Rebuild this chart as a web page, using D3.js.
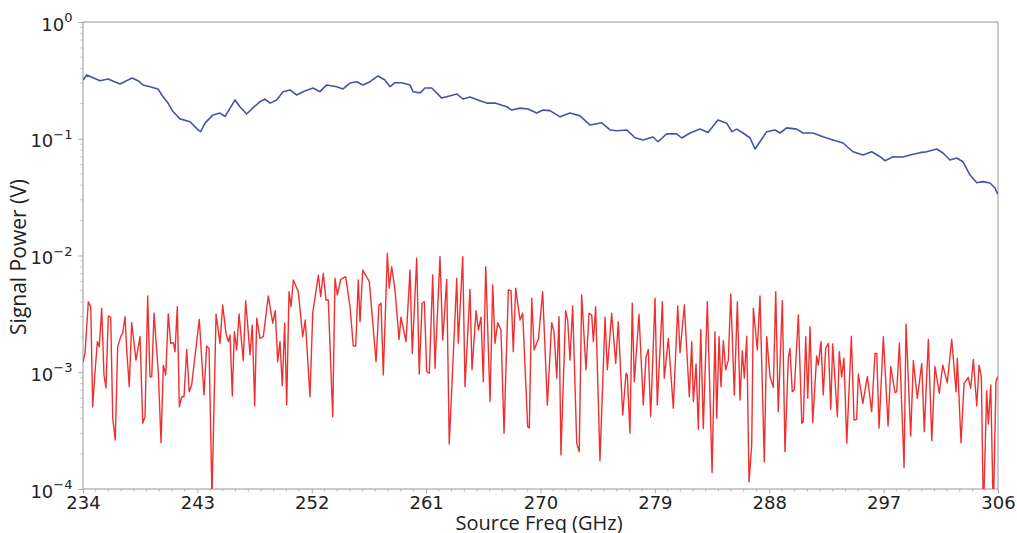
<!DOCTYPE html>
<html><head><meta charset="utf-8">
<script src="https://cdn.jsdelivr.net/npm/d3@7"></script>
<style>body{margin:0;background:#fff}svg{display:block}</style>
</head><body>
<svg id="c" width="1017" height="533"></svg>
<script>
const xTicks = [234, 243, 252, 261, 270, 279, 288, 297, 306];
const yTicks = [1e-4, 1e-3, 1e-2, 1e-1, 1e0];
const yTickExp = ["−4", "−3", "−2", "−1", "0"];
const xLabel = "Source Freq (GHz)";
const yLabel = "Signal Power (V)";

// blue trace: frequency (GHz) and signal (V)
const blueFreq = [234.00,234.29,235.34,235.97,236.91,237.86,238.33,238.72,239.27,239.90,240.30,240.69,241.08,241.63,242.42,243.05,243.26,243.60,244.23,244.78,245.17,245.41,245.96,246.35,246.88,247.28,247.93,248.32,248.72,249.24,249.74,250.29,250.82,251.31,252.10,252.65,253.18,253.96,254.46,255.01,255.54,256.03,256.58,257.21,257.76,258.16,258.55,259.08,259.73,259.97,260.52,260.91,261.44,261.83,262.23,262.62,263.41,263.90,264.45,265.24,265.77,266.42,267.34,267.73,268.39,269.02,269.70,270.20,270.75,271.54,272.32,273.11,273.90,274.82,275.47,276.00,276.78,277.44,278.07,278.85,279.25,279.93,280.72,281.11,281.77,282.55,283.18,283.97,284.65,285.05,285.44,285.94,286.49,286.88,287.27,287.80,288.45,288.85,289.37,290.16,290.66,291.44,292.23,293.02,293.80,294.59,295.38,296.06,296.72,297.11,297.74,298.53,299.08,299.86,300.39,301.18,301.67,302.22,302.75,303.24,303.80,304.33,304.82,305.37,305.76,305.92,306.00];
const blueVolt = [0.319,0.352,0.314,0.325,0.294,0.331,0.314,0.289,0.279,0.267,0.229,0.202,0.171,0.148,0.140,0.119,0.115,0.136,0.160,0.166,0.155,0.171,0.215,0.188,0.163,0.180,0.208,0.219,0.202,0.215,0.253,0.262,0.237,0.253,0.272,0.253,0.289,0.279,0.267,0.300,0.308,0.289,0.308,0.345,0.319,0.279,0.302,0.302,0.289,0.253,0.247,0.272,0.272,0.247,0.223,0.229,0.242,0.219,0.228,0.212,0.202,0.202,0.188,0.176,0.183,0.180,0.166,0.176,0.174,0.154,0.166,0.157,0.131,0.137,0.119,0.117,0.119,0.102,0.0976,0.1035,0.0943,0.110,0.110,0.1015,0.112,0.121,0.113,0.145,0.136,0.115,0.121,0.112,0.1015,0.0817,0.0943,0.115,0.119,0.112,0.124,0.121,0.112,0.112,0.104,0.0976,0.092,0.0774,0.0726,0.0774,0.0702,0.0649,0.0702,0.0698,0.0726,0.076,0.0774,0.0817,0.0755,0.0658,0.0684,0.0636,0.0489,0.042,0.0429,0.0418,0.0379,0.0345,0.0336];

// red trace: frequency (GHz) and signal (mV)
const redFreq = [234.00,234.16,234.42,234.61,234.76,234.94,235.13,235.28,235.47,235.65,235.81,235.99,236.18,236.34,236.54,236.73,236.97,237.12,237.31,237.44,237.64,237.83,238.17,238.49,238.70,238.88,239.09,239.27,239.41,239.59,239.93,240.14,240.32,240.51,240.71,240.90,241.11,241.24,241.42,241.58,241.77,241.95,242.16,242.36,242.55,243.15,243.52,243.73,243.92,244.15,244.47,244.78,244.99,245.25,245.43,245.57,245.75,245.91,246.09,246.28,246.61,246.80,246.96,247.14,247.32,247.51,247.67,247.93,248.19,248.58,248.93,249.13,249.32,249.50,249.68,249.87,250.03,250.21,250.37,250.55,250.94,251.29,251.49,251.86,252.08,252.52,252.70,252.91,253.12,253.30,253.65,253.83,254.01,254.28,254.67,255.01,255.27,255.46,255.66,255.80,256.01,256.53,257.06,257.29,257.45,257.63,257.95,258.10,258.29,258.55,258.87,259.02,259.42,259.73,259.91,260.26,260.46,260.68,260.86,261.05,261.25,261.52,261.70,262.09,262.31,262.62,262.82,263.41,263.53,263.88,264.06,264.45,264.61,264.93,265.11,265.32,265.50,265.69,266.03,266.24,266.42,266.63,266.89,267.13,267.47,267.68,267.86,268.05,268.39,268.60,268.99,269.12,269.31,269.50,269.84,270.17,270.54,270.88,271.06,271.28,271.46,271.61,271.98,272.14,272.32,272.53,272.85,273.05,273.24,273.58,273.82,274.03,274.16,274.34,274.68,275.08,275.26,275.60,275.92,276.12,276.47,276.73,276.83,277.04,277.22,277.38,277.75,278.09,278.30,278.48,278.67,279.01,279.19,279.59,279.74,280.06,280.45,280.80,280.98,281.32,281.71,281.90,282.03,282.24,282.42,282.61,282.81,283.13,283.50,283.73,283.87,284.05,284.20,284.39,284.57,284.78,284.97,285.25,285.49,285.70,285.88,286.04,286.23,286.41,286.62,286.75,287.06,287.27,287.61,287.80,288.06,288.32,288.51,288.71,289.03,289.24,289.50,289.63,289.81,289.97,290.29,290.56,290.68,290.87,291.03,291.21,291.42,291.73,291.86,292.07,292.25,292.44,292.65,292.84,292.99,293.36,293.51,293.70,293.88,294.10,294.46,294.67,294.88,295.01,295.36,295.72,296.06,296.32,296.46,296.64,296.98,297.35,297.56,297.90,298.03,298.24,298.61,298.76,299.13,299.34,299.65,300.00,300.20,300.52,300.79,301.04,301.38,301.65,302.01,302.36,302.70,302.80,303.09,303.33,303.66,303.85,304.06,304.33,304.51,304.69,304.85,305.11,305.24,305.43,305.63,305.84,305.95,306.00];
const redMilliV = [1.23,1.46,4.02,3.64,0.507,0.985,1.83,1.65,3.53,0.947,0.733,3.03,2.96,0.403,0.263,1.65,2.02,2.16,2.99,1.55,0.752,2.66,1.27,2.02,0.365,0.416,4.50,0.916,0.916,3.20,0.98,0.249,1.15,0.947,3.15,1.77,1.79,1.50,3.64,0.507,0.617,0.617,1.57,0.681,0.778,2.84,0.639,1.68,1.60,0.085,3.15,1.77,3.77,2.16,1.83,2.08,0.626,2.23,1.55,3.15,1.26,4.10,2.54,1.41,2.54,0.514,2.90,1.95,2.02,4.50,2.63,3.37,1.23,1.83,0.767,2.63,0.524,4.90,3.64,6.17,4.90,2.02,2.80,0.617,3.25,6.81,4.44,7.04,4.16,4.16,0.416,6.38,4.59,6.25,6.58,3.64,1.68,1.68,6.17,2.71,7.51,5.97,1.23,3.77,3.90,0.947,10.4,5.24,8.02,5.06,1.91,2.96,1.83,7.51,1.45,9.46,0.966,3.90,4.02,1.01,0.98,6.81,1.08,9.77,1.89,6.25,0.243,6.38,1.77,9.77,0.752,5.13,1.05,3.37,2.30,2.96,0.83,8.02,0.56,5.59,1.77,2.66,2.30,0.30,5.06,5.0,1.50,5.24,2.80,3.20,0.342,0.333,4.30,1.55,1.95,4.90,0.524,2.66,2.23,0.888,2.99,0.196,3.37,2.80,1.27,3.69,0.247,0.209,4.59,1.05,3.20,3.09,1.83,3.64,0.175,2.96,1.05,3.20,1.19,2.71,0.43,0.98,0.947,0.30,3.90,0.83,3.14,0.524,1.34,1.57,0.416,4.30,0.524,4.02,0.888,1.95,0.491,3.69,1.47,3.77,0.617,1.83,0.56,1.18,0.325,2.33,0.33,4.02,0.138,2.23,0.403,2.02,0.752,1.86,1.05,1.27,4.68,0.639,4.02,0.579,1.53,0.888,2.04,0.115,0.238,3.53,1.55,4.50,0.171,2.02,0.916,0.743,4.90,0.459,4.10,0.209,1.32,1.60,0.681,0.704,3.09,0.365,0.377,2.02,0.598,2.46,0.37,1.38,1.15,1.83,0.639,1.60,1.77,0.482,1.75,0.416,1.50,0.916,1.32,0.247,2.04,0.39,0.395,0.966,0.542,0.916,0.459,1.45,1.45,0.331,2.02,0.346,1.12,0.668,0.681,1.77,0.153,2.59,0.284,1.26,0.598,1.19,0.31,1.91,0.259,1.12,0.66,1.15,0.814,1.91,0.681,1.32,0.249,0.804,0.905,0.729,1.29,0.514,1.15,0.916,0.06,0.695,0.36,0.778,0.06,0.83,0.905,0.90];

const svg = d3.select("#c");
const m = {l: 83, r: 998, t: 22, b: 489};
const x = d3.scaleLinear().domain([234, 306]).range([m.l, m.r]);
const y = d3.scaleLog().domain([1e-4, 1]).range([m.b, m.t]);
const axisCol = "#a8a8a8";
const font = "'DejaVu Sans', sans-serif";
const labelFont = "'Open Sans', sans-serif";

svg.append("defs").append("clipPath").attr("id", "clip")
  .append("rect").attr("x", m.l).attr("y", m.t).attr("width", m.r - m.l).attr("height", m.b - m.t);

// minor ticks on y (log)
const minorY = [];
for (let e = -4; e < 0; e++) for (let k = 2; k <= 9; k++) minorY.push(k * Math.pow(10, e));
svg.append("g").selectAll("line").data(minorY).join("line")
  .attr("x1", m.l - 2.5).attr("x2", m.l).attr("y1", d => y(d)).attr("y2", d => y(d))
  .attr("stroke", axisCol).attr("stroke-width", 0.8);
// minor ticks on x
const minorX = d3.range(235, 306, 1).filter(v => !xTicks.includes(v));
svg.append("g").selectAll("line").data(minorX).join("line")
  .attr("x1", d => x(d)).attr("x2", d => x(d)).attr("y1", m.b).attr("y2", m.b + 2.5)
  .attr("stroke", axisCol).attr("stroke-width", 0.8);

// frame
svg.append("rect").attr("x", m.l).attr("y", m.t).attr("width", m.r - m.l).attr("height", m.b - m.t)
  .attr("fill", "none").attr("stroke", axisCol).attr("stroke-width", 1.2);

// x axis
const gx = svg.append("g").attr("transform", `translate(0,${m.b})`)
  .call(d3.axisBottom(x).tickValues(xTicks).tickSize(4.5).tickPadding(3).tickFormat(d3.format("d")));
gx.select(".domain").remove();
gx.selectAll("line").attr("stroke", axisCol);
gx.selectAll("text").attr("font-family", font).attr("font-size", 18).attr("fill", "#222");

// y axis
const gy = svg.append("g").attr("transform", `translate(${m.l},0)`)
  .call(d3.axisLeft(y).tickValues(yTicks).tickSize(4.5).tickPadding(6).tickFormat(() => ""));
gy.select(".domain").remove();
gy.selectAll("line").attr("stroke", axisCol);
gy.selectAll(".tick").each(function(d, i) {
  const t = d3.select(this).select("text").attr("font-family", font).attr("font-size", 18)
    .attr("fill", "#222").attr("dy", "0.45em");
  t.text("10");
  t.append("tspan").attr("dy", "-0.65em").attr("font-size", 13).text(yTickExp[i]);
});

// lines
const blue = blueFreq.map((f, i) => [f, blueVolt[i]]);
const red = redFreq.map((f, i) => [f, redMilliV[i] / 1000]);
const line = d3.line().x(d => x(d[0])).y(d => y(d[1]));
const plot = svg.append("g").attr("clip-path", "url(#clip)");
plot.append("path").datum(red).attr("d", line).attr("fill", "none")
  .attr("stroke", "#f03030").attr("stroke-width", 1.4).attr("stroke-linejoin", "round");
plot.append("path").datum(blue).attr("d", line).attr("fill", "none")
  .attr("stroke", "#4652ad").attr("stroke-width", 1.6).attr("stroke-linejoin", "round");

// labels
svg.append("text").attr("x", 539).attr("y", 530).attr("text-anchor", "middle")
  .attr("font-family", labelFont).attr("font-size", 20).attr("fill", "#222").text(xLabel);
svg.append("text").attr("transform", `translate(26,257) rotate(-90)`)
  .attr("text-anchor", "middle").attr("font-family", labelFont).attr("font-size", 21).attr("fill", "#222").text(yLabel);
</script>
</body></html>
